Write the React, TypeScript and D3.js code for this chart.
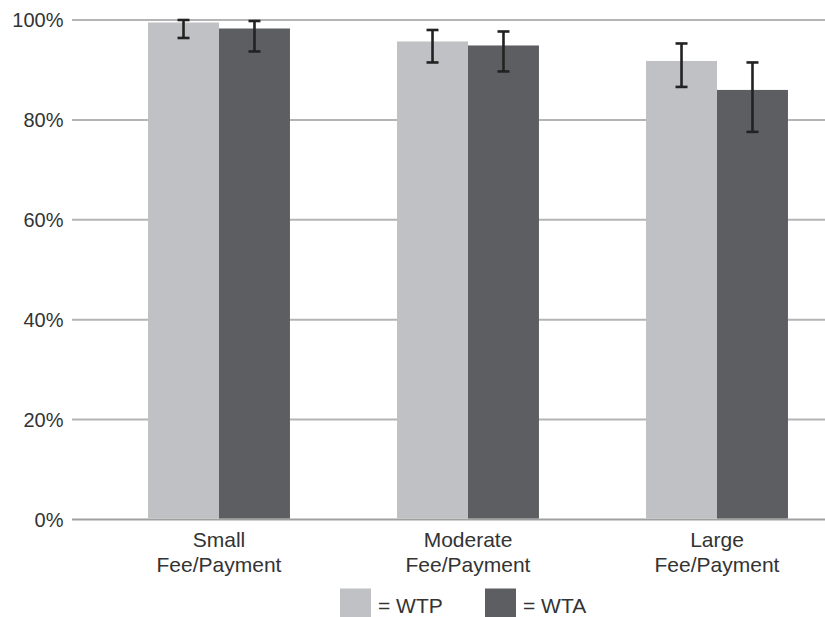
import React from "react";
import * as d3 from "d3";

// Categories and series
const categories = ["Small\nFee/Payment", "Moderate\nFee/Payment", "Large\nFee/Payment"];
const seriesNames = ["WTP", "WTA"];
const wtpValues = [0.995, 0.957, 0.918];
const wtaValues = [0.983, 0.949, 0.86];
// Error bar bounds (lower, upper)
const wtpLower = [0.964, 0.915, 0.866];
const wtpUpper = [1.0, 0.98, 0.953];
const wtaLower = [0.937, 0.897, 0.776];
const wtaUpper = [0.998, 0.977, 0.915];
const yTicks = [0, 0.2, 0.4, 0.6, 0.8, 1.0];

const W = 825;
const H = 617;
const colors: Record<string, string> = { WTP: "#c0c1c4", WTA: "#5d5e61" };
const FONT = "'Liberation Sans', Arial, Helvetica, sans-serif";

export default function App() {
  const x = d3
    .scaleBand<string>()
    .domain(categories)
    .range([94.5, 841.5])
    .paddingInner(0.43)
    .paddingOuter(0.215);
  const xs = d3.scaleBand<string>().domain(seriesNames).range([0, x.bandwidth()]);
  const y = d3.scaleLinear().domain([0, 1]).range([519.5, 20]);

  const seriesData: Record<string, { v: number[]; lo: number[]; hi: number[] }> = {
    WTP: { v: wtpValues, lo: wtpLower, hi: wtpUpper },
    WTA: { v: wtaValues, lo: wtaLower, hi: wtaUpper },
  };

  const fmt = d3.format(".0%");

  return (
    <svg
      width={W}
      height={H}
      style={{ position: "absolute", left: 0, top: 0, background: "#fff" }}
      fontFamily={FONT}
    >
      {/* gridlines */}
      {yTicks.map((t) => (
        <line
          key={t}
          x1={72}
          x2={W}
          y1={y(t)}
          y2={y(t)}
          stroke={t === 0 ? "#a0a0a0" : "#b4b4b4"}
          strokeWidth={2}
        />
      ))}
      {/* y tick labels */}
      {yTicks.map((t) => (
        <text
          key={"l" + t}
          x={63.5}
          y={y(t)}
          dy="0.35em"
          textAnchor="end"
          fontSize={20}
          fill="#333"
        >
          {fmt(t)}
        </text>
      ))}
      {/* bars */}
      {categories.map((c, i) =>
        seriesNames.map((s) => {
          const d = seriesData[s];
          const bx = (x(c) ?? 0) + (xs(s) ?? 0);
          const bw = xs.bandwidth();
          return (
            <rect
              key={c + s}
              x={bx}
              y={y(d.v[i])}
              width={bw}
              height={y(0) - y(d.v[i]) - 1}
              fill={colors[s]}
            />
          );
        })
      )}
      {/* error bars */}
      {categories.map((c, i) =>
        seriesNames.map((s) => {
          const d = seriesData[s];
          const cx = (x(c) ?? 0) + (xs(s) ?? 0) + xs.bandwidth() / 2;
          const cap = 6;
          return (
            <g key={"e" + c + s} stroke="#222" strokeWidth={2.6}>
              <line x1={cx} x2={cx} y1={y(d.hi[i])} y2={y(d.lo[i])} />
              <line x1={cx - cap} x2={cx + cap} y1={y(d.hi[i])} y2={y(d.hi[i])} />
              <line x1={cx - cap} x2={cx + cap} y1={y(d.lo[i])} y2={y(d.lo[i])} />
            </g>
          );
        })
      )}
      {/* category labels */}
      {categories.map((c) => {
        const cx = (x(c) ?? 0) + x.bandwidth() / 2;
        return (
          <text key={"c" + c} textAnchor="middle" fontSize={21} fill="#333">
            {c.split("\n").map((line, k) => (
              <tspan key={k} x={cx} y={547 + k * 25}>
                {line}
              </tspan>
            ))}
          </text>
        );
      })}
      {/* legend */}
      <rect x={340} y={588.5} width={31} height={30} fill={colors.WTP} />
      <text x={378} y={613} fontSize={21} fill="#333">
        = WTP
      </text>
      <rect x={485} y={588.5} width={31} height={30} fill={colors.WTA} />
      <text x={523} y={613} fontSize={21} fill="#333">
        = WTA
      </text>
    </svg>
  );
}
